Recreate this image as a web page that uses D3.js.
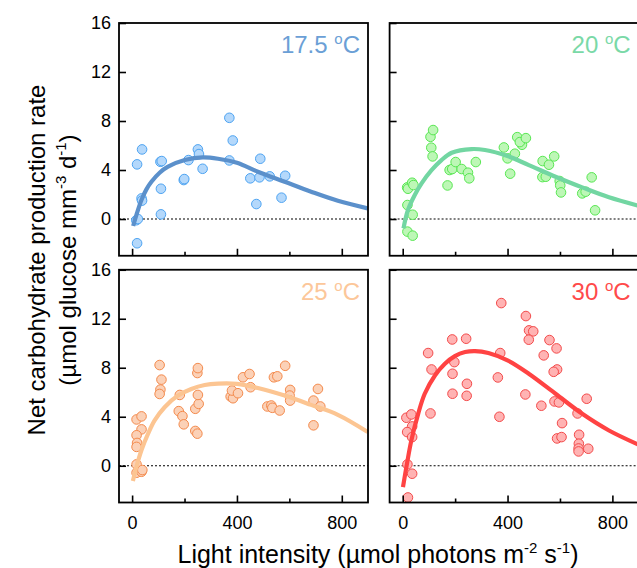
<!DOCTYPE html>
<html>
<head>
<meta charset="utf-8">
<script src="https://cdn.jsdelivr.net/npm/d3@7/dist/d3.min.js"></script>
<style>
  html, body { margin: 0; padding: 0; background: #fff; }
  svg { display: block; font-family: "Liberation Sans", Arial, sans-serif; }
</style>
</head>
<body>
<svg id="chart" width="637" height="568"></svg>
<script>
// Measured rates for each temperature (light in µmol photons m-2 s-1, rate in µmol glucose mm-3 d-1)
const light175 = [19, 38, 36, 38, 16, 22, 19, 108, 113, 110, 110, 197, 199, 215, 251, 255, 269, 371, 384, 371, 451, 489, 486, 525, 474, 584, 570];
const rate175  = [4.46, 5.68, 1.68, 1.5, -0.1, 0.0, -1.98, 4.67, 4.73, 2.47, 0.38, 3.18, 3.26, 4.81, 5.68, 5.3, 4.1, 8.26, 6.41, 4.78, 3.32, 4.92, 3.4, 3.48, 1.22, 3.53, 1.74];

const light20 = [17, 20, 36, 41, 18, 38, 18, 38, 106, 116, 109, 114, 171, 179, 189, 202, 225, 249, 254, 279, 386, 400, 410, 428, 437, 455, 447, 470, 534, 558, 578, 533, 546, 599, 601, 604, 685, 698, 721, 734];
const rate20  = [2.58, 2.47, 2.96, 2.77, 1.14, 0.35, -1.03, -1.36, 6.71, 7.26, 5.82, 5.11, 2.74, 4.0, 4.08, 4.65, 4.08, 3.78, 3.32, 4.65, 5.84, 4.95, 3.7, 5.33, 6.68, 6.06, 6.28, 6.6, 4.73, 4.43, 5.11, 3.42, 3.45, 3.1, 2.74, 2.17, 2.09, 2.23, 3.4, 0.71];

const light25 = [17, 36, 36, 17, 19, 17, 17, 17, 36, 39, 105, 112, 108, 105, 182, 178, 192, 197, 241, 254, 251, 249, 251, 241, 249, 376, 385, 381, 404, 423, 448, 452, 516, 531, 535, 563, 541, 554, 584, 603, 601, 603, 692, 709, 718, 692];
const rate25  = [3.78, 4.03, 2.97, 2.49, 1.86, 1.54, 0.11, -0.57, -0.49, -0.35, 8.22, 7.03, 6.22, 5.86, 5.78, 4.46, 4.05, 3.38, 4.65, 5.05, 5.78, 7.57, 7.97, 2.84, 2.62, 5.65, 5.51, 6.14, 5.92, 7.22, 7.49, 6.41, 4.84, 4.92, 4.73, 4.51, 7.22, 7.3, 8.16, 6.19, 5.73, 5.32, 5.32, 6.27, 4.84, 3.3];

const light30 = [376, 470, 482, 498, 481, 560, 587, 538, 589, 576, 189, 242, 97, 110, 197, 190, 190, 245, 244, 106, 372, 363, 369, 468, 529, 579, 596, 608, 589, 606, 667, 702, 673, 672, 671, 671, 708, 14, 33, 36, 17, 36, 18, 36, 20];
const rate30  = [13.28, 12.22, 11.05, 10.97, 10.29, 10.26, 9.58, 9.01, 7.86, 7.67, 10.31, 10.37, 9.2, 7.86, 8.46, 7.51, 5.88, 6.69, 5.71, 4.27, 9.2, 7.21, 4.0, 5.82, 4.9, 5.25, 5.17, 3.48, 2.23, 2.34, 4.27, 5.47, 2.53, 1.8, 1.41, 1.17, 1.39, 3.92, 4.19, 3.21, 2.75, 2.34, 0.11, -0.65, -2.59];

// Fitted light-response curves
const fitLight175 = [4, 16.5, 35.6, 54.6, 73.7, 105, 137, 201, 270, 328, 400, 480, 582, 683, 785, 899];
const fitRate175  = [-0.57, 0.33, 1.55, 2.42, 3.04, 3.78, 4.27, 4.81, 5.03, 4.92, 4.59, 3.86, 3.04, 2.23, 1.49, 0.87];

const fitLight20 = [3, 20, 46, 72, 110, 148, 187, 263, 314, 400, 481, 583, 685, 787, 898];
const fitRate20  = [-0.76, 0.73, 1.96, 2.91, 3.99, 4.81, 5.41, 5.71, 5.63, 5.14, 4.4, 3.45, 2.58, 1.77, 1.09];

const fitLight25 = [3, 16.5, 35.6, 61, 86, 124, 175, 226, 277, 328, 400, 480, 582, 683, 785, 899];
const fitRate25  = [-1.24, -0.08, 1.27, 2.62, 3.7, 4.78, 5.73, 6.27, 6.59, 6.7, 6.68, 6.35, 5.73, 4.97, 4.16, 2.76];

const fitLight30 = [1, 14, 33, 59, 84, 123, 161, 199, 238, 276, 327, 400, 481, 583, 685, 787, 898];
const fitRate30  = [-1.74, -0.11, 2.07, 4.24, 5.88, 7.37, 8.33, 8.95, 9.28, 9.36, 9.2, 8.6, 7.51, 5.88, 4.24, 2.88, 1.74];

const tempLabels = ["17.5", "20", "25", "30"];
const xMajorTicks = [0, 400, 800];
const xMinorTicks = [200, 600];
const yTicks = [0, 4, 8, 12, 16];

const svg = d3.select("#chart");

const colLeft = [119, 389.6];
const rowTop = [23, 269.75];
const panelW = 249;
const panelH = 232.75;

const panels = [
  { t: tempLabels[0], xs: light175, ys: rate175, fx: fitLight175, fy: fitRate175, col: 0, row: 0,
    fill: "#b4d8fb", stroke: "#4ea4f2", line: "#5b90cb", text: "#6b9fd6" },
  { t: tempLabels[1], xs: light20, ys: rate20, fx: fitLight20, fy: fitRate20, col: 1, row: 0,
    fill: "#bdf7b6", stroke: "#58e752", line: "#72d6a2", text: "#7ad9a7" },
  { t: tempLabels[2], xs: light25, ys: rate25, fx: fitLight25, fy: fitRate25, col: 0, row: 1,
    fill: "#fbd1b7", stroke: "#f48a4c", line: "#fcc592", text: "#fcc79a" },
  { t: tempLabels[3], xs: light30, ys: rate30, fx: fitLight30, fy: fitRate30, col: 1, row: 1,
    fill: "#ffb3b3", stroke: "#f34a4a", line: "#ff4343", text: "#ff4a4a" }
];

panels.forEach((p, i) => {
  const x0 = colLeft[p.col], y0 = rowTop[p.row];
  const x = d3.scaleLinear().domain([-50, 900]).range([x0, x0 + panelW]);
  const y = d3.scaleLinear().domain([-3, 16]).range([y0 + panelH, y0]);

  const g = svg.append("g");
  const clipId = "clip" + i;
  svg.append("clipPath").attr("id", clipId)
    .append("rect").attr("x", x0).attr("y", y0).attr("width", panelW).attr("height", panelH);

  const inner = g.append("g").attr("clip-path", `url(#${clipId})`);

  // zero reference line
  inner.append("line")
    .attr("x1", x0).attr("x2", x0 + panelW)
    .attr("y1", y(0)).attr("y2", y(0))
    .attr("stroke", "#000").attr("stroke-width", 1.1)
    .attr("stroke-dasharray", "2,2");

  // observations
  inner.selectAll("circle").data(p.xs.map((v, k) => [v, p.ys[k]]))
    .enter().append("circle")
    .attr("cx", d => x(d[0])).attr("cy", d => y(d[1]))
    .attr("r", 4.8)
    .attr("fill", p.fill).attr("stroke", p.stroke).attr("stroke-width", 1);

  // fitted curve
  const line = d3.line().x(d => x(d[0])).y(d => y(d[1])).curve(d3.curveCatmullRom.alpha(0.5));
  inner.append("path")
    .datum(p.fx.map((v, k) => [v, p.fy[k]]))
    .attr("d", line)
    .attr("fill", "none").attr("stroke", p.line).attr("stroke-width", 4.2)
    .attr("stroke-linecap", "butt");

  // axes (ticks pointing inward)
  const xAxisMajor = d3.axisTop(x).tickValues(xMajorTicks).tickSizeInner(7).tickSizeOuter(0)
    .tickFormat(p.row === 1 ? d3.format("d") : "");
  const xAg = g.append("g").attr("transform", `translate(0,${y0 + panelH})`).call(xAxisMajor);
  xAg.select(".domain").remove();
  xAg.selectAll("line").attr("stroke", "#000").attr("stroke-width", 1.6);
  xAg.selectAll("text").attr("y", 26).attr("dy", 0).attr("fill", "#000")
    .attr("font-size", 18).attr("font-family", "Liberation Sans, Arial, sans-serif");

  const xAxisMinor = d3.axisTop(x).tickValues(xMinorTicks).tickSizeInner(4).tickSizeOuter(0).tickFormat("");
  const xMg = g.append("g").attr("transform", `translate(0,${y0 + panelH})`).call(xAxisMinor);
  xMg.select(".domain").remove();
  xMg.selectAll("line").attr("stroke", "#000").attr("stroke-width", 1.6);

  const yAxis = d3.axisRight(y).tickValues(yTicks).tickSizeInner(7).tickSizeOuter(0)
    .tickFormat(p.col === 0 ? d3.format("d") : "");
  const yAg = g.append("g").attr("transform", `translate(${x0},0)`).call(yAxis);
  yAg.select(".domain").remove();
  yAg.selectAll("line").attr("stroke", "#000").attr("stroke-width", 1.6);
  yAg.selectAll("text").attr("x", -8).attr("text-anchor", "end").attr("fill", "#000")
    .attr("font-size", 18).attr("font-family", "Liberation Sans, Arial, sans-serif");

  // frame
  g.append("rect").attr("x", x0).attr("y", y0).attr("width", panelW).attr("height", panelH)
    .attr("fill", "none").attr("stroke", "#000").attr("stroke-width", 1.8);

  // temperature label
  const lab = g.append("text")
    .attr("x", x0 + panelW - 8).attr("y", y0 + 30)
    .attr("text-anchor", "end").attr("fill", p.text).attr("font-size", 24);
  lab.append("tspan").text(p.t + " ");
  lab.append("tspan").attr("font-size", 15).attr("dy", -9).text("o");
  lab.append("tspan").attr("dy", 9).text("C");
});

// x-axis title
const xt = svg.append("text").attr("x", 378).attr("y", 563)
  .attr("text-anchor", "middle").attr("font-size", 25).attr("fill", "#000");
xt.append("tspan").text("Light intensity (\u00b5mol photons m");
xt.append("tspan").attr("font-size", 15).attr("dy", -10).text("-2");
xt.append("tspan").attr("dy", 10).text(" s");
xt.append("tspan").attr("font-size", 15).attr("dy", -10).text("-1");
xt.append("tspan").attr("dy", 10).text(")");

// y-axis title (two lines)
const yt = svg.append("g").attr("transform", "translate(0,260) rotate(-90)");
yt.append("text").attr("x", 0).attr("y", 45).attr("text-anchor", "middle")
  .attr("font-size", 24).attr("fill", "#000").text("Net carbohydrate production rate");
const yt2 = yt.append("text").attr("x", 0).attr("y", 76).attr("text-anchor", "middle")
  .attr("font-size", 24).attr("fill", "#000");
yt2.append("tspan").text("(\u00b5mol glucose mm");
yt2.append("tspan").attr("font-size", 15).attr("dy", -10).text("-3");
yt2.append("tspan").attr("dy", 10).text(" d");
yt2.append("tspan").attr("font-size", 15).attr("dy", -10).text("-1");
yt2.append("tspan").attr("dy", 10).text(")");
</script>
</body>
</html>
